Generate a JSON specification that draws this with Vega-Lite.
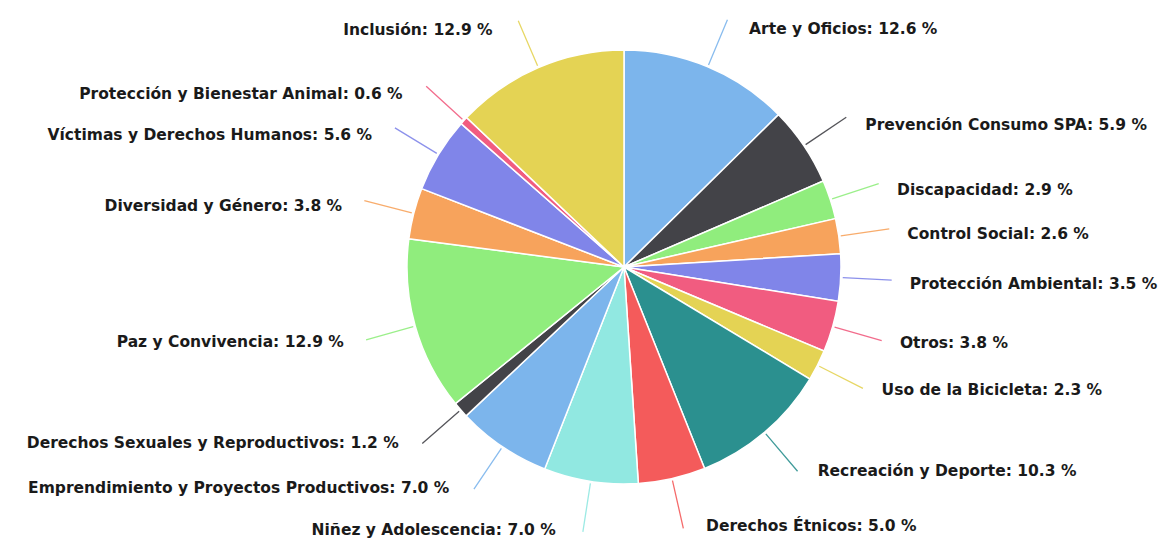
{
  "$schema": "https://vega.github.io/schema/vega-lite/v6.json",
  "autosize": "none",
  "width": 1100,
  "height": 534,
  "padding": {"left": 74, "top": 0, "right": 0, "bottom": 7},
  "background": "white",
  "config": {"view": {"stroke": null}},
  "data": {"values": [
    {"name": "Arte y Oficios", "pct": 12.6},
    {"name": "Prevención Consumo SPA", "pct": 5.9},
    {"name": "Discapacidad", "pct": 2.9},
    {"name": "Control Social", "pct": 2.6},
    {"name": "Protección Ambiental", "pct": 3.5},
    {"name": "Otros", "pct": 3.8},
    {"name": "Uso de la Bicicleta", "pct": 2.3},
    {"name": "Recreación y Deporte", "pct": 10.3},
    {"name": "Derechos Étnicos", "pct": 5.0},
    {"name": "Niñez y Adolescencia", "pct": 7.0},
    {"name": "Emprendimiento y Proyectos Productivos", "pct": 7.0},
    {"name": "Derechos Sexuales y Reproductivos", "pct": 1.2},
    {"name": "Paz y Convivencia", "pct": 12.9},
    {"name": "Diversidad y Género", "pct": 3.8},
    {"name": "Víctimas y Derechos Humanos", "pct": 5.6},
    {"name": "Protección y Bienestar Animal", "pct": 0.6},
    {"name": "Inclusión", "pct": 12.9}
  ]},
  "transform": [
    {"window": [{"op": "sum", "field": "pct", "as": "cum"}], "frame": [null, 0]},
    {"calculate": "datum.cum - datum.pct", "as": "start"},
    {"calculate": "datum.cum - datum.pct / 2", "as": "mid"},
    {"calculate": "datum.name + ': ' + format(datum.pct, '.1f') + ' %'", "as": "label"}
  ],
  "encoding": {
    "color": {
      "field": "name",
      "type": "nominal",
      "legend": null,
      "scale": {
        "domain": ["Arte y Oficios", "Prevención Consumo SPA", "Discapacidad", "Control Social", "Protección Ambiental", "Otros", "Uso de la Bicicleta", "Recreación y Deporte", "Derechos Étnicos", "Niñez y Adolescencia", "Emprendimiento y Proyectos Productivos", "Derechos Sexuales y Reproductivos", "Paz y Convivencia", "Diversidad y Género", "Víctimas y Derechos Humanos", "Protección y Bienestar Animal", "Inclusión"],
        "range": ["#7cb5ec", "#434348", "#90ed7d", "#f7a35c", "#8085e9", "#f15c80", "#e4d354", "#2b908f", "#f45b5b", "#91e8e1", "#7cb5ec", "#434348", "#90ed7d", "#f7a35c", "#8085e9", "#f15c80", "#e4d354"]
      }
    }
  },
  "layer": [
    {
      "mark": {"type": "arc", "outerRadius": 217, "stroke": "white", "strokeWidth": 1.5},
      "encoding": {
        "theta": {"field": "start", "type": "quantitative", "scale": {"domain": [0, 99.9], "range": [0, 6.283185307]}},
        "theta2": {"field": "cum"}
      }
    },
    {
      "mark": {"type": "arc", "outerRadius": 268, "innerRadius": 219, "fill": null, "strokeWidth": 1.3, "opacity": 0.9},
      "encoding": {
        "theta": {"field": "mid", "type": "quantitative", "scale": {"domain": [0, 99.9], "range": [0, 6.283185307]}},
        "theta2": {"field": "mid"},
        "stroke": {"field": "name", "type": "nominal", "legend": null, "scale": {
          "domain": ["Arte y Oficios", "Prevención Consumo SPA", "Discapacidad", "Control Social", "Protección Ambiental", "Otros", "Uso de la Bicicleta", "Recreación y Deporte", "Derechos Étnicos", "Niñez y Adolescencia", "Emprendimiento y Proyectos Productivos", "Derechos Sexuales y Reproductivos", "Paz y Convivencia", "Diversidad y Género", "Víctimas y Derechos Humanos", "Protección y Bienestar Animal", "Inclusión"],
          "range": ["#7cb5ec", "#434348", "#90ed7d", "#f7a35c", "#8085e9", "#f15c80", "#e4d354", "#2b908f", "#f45b5b", "#91e8e1", "#7cb5ec", "#434348", "#90ed7d", "#f7a35c", "#8085e9", "#f15c80", "#e4d354"]
        }},
        "color": {"value": null}
      }
    },
    {
      "transform": [{"filter": "datum.mid < 49.95"}],
      "mark": {"type": "text", "radius": 262, "align": "left", "baseline": "middle", "dx": 24, "dy": 4, "font": "DejaVu Sans", "fontWeight": "bold", "fontSize": 15.5},
      "encoding": {
        "theta": {"field": "mid", "type": "quantitative", "scale": {"domain": [0, 99.9], "range": [0, 6.283185307]}},
        "text": {"field": "label"},
        "color": {"value": "#1a1a1a"}
      }
    },
    {
      "transform": [{"filter": "datum.mid >= 49.95"}],
      "mark": {"type": "text", "radius": 262, "align": "right", "baseline": "middle", "dx": -28, "dy": 4, "font": "DejaVu Sans", "fontWeight": "bold", "fontSize": 15.5},
      "encoding": {
        "theta": {"field": "mid", "type": "quantitative", "scale": {"domain": [0, 99.9], "range": [0, 6.283185307]}},
        "text": {"field": "label"},
        "color": {"value": "#1a1a1a"}
      }
    }
  ]
}
